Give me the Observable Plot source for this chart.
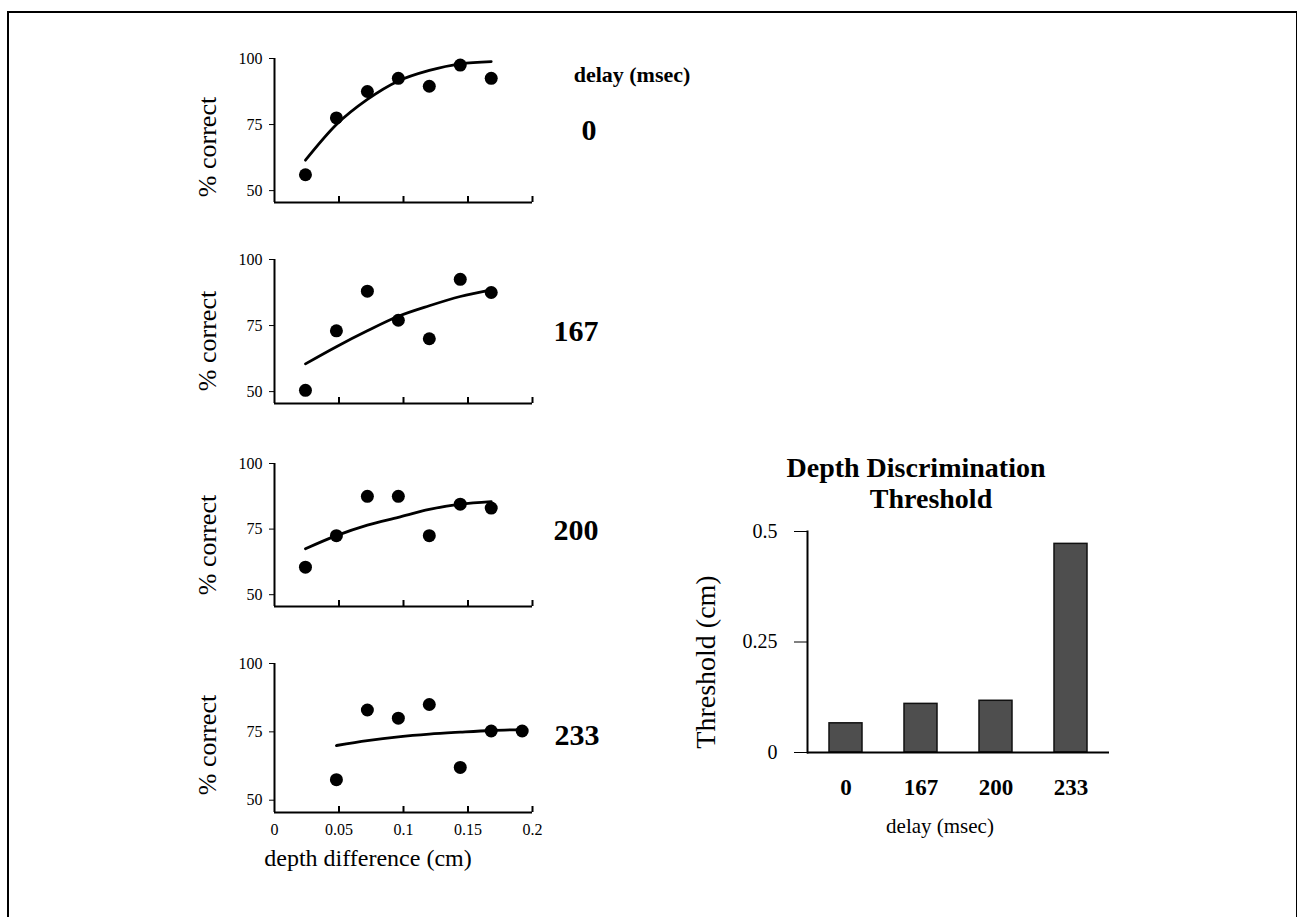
<!DOCTYPE html>
<html>
<head>
<meta charset="utf-8">
<script src="https://cdn.jsdelivr.net/npm/d3@7"></script>
<script src="https://cdn.jsdelivr.net/npm/@observablehq/plot@0.6"></script>
<style>
  html, body { margin: 0; padding: 0; background: #fff; }
  #root { position: relative; width: 1297px; height: 917px; overflow: hidden; background: #fff;
          font-family: "Liberation Serif", "Times New Roman", serif; color: #000; }
  #border { position: absolute; left: 7px; top: 11px; width: 1287px; height: 1000px;
            border-left: 2px solid #000; border-top: 2px solid #000; border-right: 2px solid #000; }
  .lbl { position: absolute; white-space: nowrap; transform: translate(-50%, -50%); line-height: 1; }
  .rot { position: absolute; white-space: nowrap; transform: translate(-50%, -50%) rotate(-90deg); line-height: 1; }
</style>
</head>
<body>
<div id="root"><div id="border"></div></div>
<script>
// ---------- data ----------
const delays = ["0", "167", "200", "233"];
const depthA = [0.024, 0.048, 0.072, 0.096, 0.12, 0.144, 0.168];   // panels 0,167,200
const depthB = [0.048, 0.072, 0.096, 0.12, 0.144, 0.168, 0.192];   // panel 233
const pct0   = [56, 77.5, 87.5, 92.5, 89.5, 97.5, 92.5];
const fit0   = [61.5, 75, 84.5, 91.5, 95.5, 98, 98.8];
const pct167 = [50.5, 73, 88, 77, 70, 92.5, 87.5];
const fit167 = [60.5, 67, 73, 78.5, 82.5, 86, 88.5];
const pct200 = [60.5, 72.5, 87.5, 87.5, 72.5, 84.5, 83];
const fit200 = [67.5, 72.5, 76.5, 79.5, 82.5, 84.5, 85.5];
const pct233 = [57.5, 83, 80, 85, 62, 75.3, 75.3];
const fit233 = [70, 71.8, 73.2, 74.2, 74.9, 75.5, 75.8];
const xTicks = [0, 0.05, 0.1, 0.15, 0.2];
const yTicks = [50, 75, 100];
const thresholds = [0.066, 0.11, 0.117, 0.472];
const thrTicks = [0, 0.25, 0.5];

const panels = [
  {delay: delays[0], depth: depthA, pct: pct0,   fit: fit0},
  {delay: delays[1], depth: depthA, pct: pct167, fit: fit167},
  {delay: delays[2], depth: depthA, pct: pct200, fit: fit200},
  {delay: delays[3], depth: depthB, pct: pct233, fit: fit233}
];

// ---------- layout ----------
const root = document.getElementById("root");
const FONT = '"Liberation Serif", "Times New Roman", serif';
const tops = [58, 259, 463, 663];
const bottoms = [202, 403, 606, 812];
const axisX0 = 274, plotW = 258, ML = 44, MR = 14, MT = 10;
const yMin = 45.5;

function place(el, left, top) {
  el.style.position = "absolute";
  el.style.left = left + "px";
  el.style.top = top + "px";
  root.appendChild(el);
}
function label(text, cx, cy, size, weight, rotated) {
  const d = document.createElement("div");
  d.className = rotated ? "rot" : "lbl";
  d.textContent = text;
  d.style.left = cx + "px";
  d.style.top = cy + "px";
  d.style.fontSize = size + "px";
  d.style.fontWeight = weight || "normal";
  root.appendChild(d);
}

panels.forEach((p, i) => {
  const last = i === 3;
  const H = bottoms[i] - tops[i];
  const MB = last ? 36 : 8;
  const data = p.depth.map((x, j) => ({x, pct: p.pct[j], fit: p.fit[j]}));
  const marks = [
    Plot.ruleX([0], {strokeWidth: 2}),
    Plot.ruleY([yMin], {strokeWidth: 2}),
    Plot.axisY({ticks: yTicks, tickSize: 5, tickPadding: 7, label: null, fontSize: 16}),
    Plot.tickX(xTicks.slice(1), {x: d => d, insetTop: H - 6, strokeWidth: 2}),
    last ? Plot.axisX({ticks: xTicks, tickSize: 0, tickPadding: 11, label: null, fontSize: 16, tickFormat: d => String(d)}) : null,
    Plot.line(data, {x: "x", y: "fit", curve: "monotone-x", strokeWidth: 2.8}),
    Plot.dot(data, {x: "x", y: "pct", r: 6.5, fill: "#000", stroke: "none"})
  ].filter(Boolean);
  const chart = Plot.plot({
    width: ML + plotW + MR,
    height: MT + H + MB,
    marginLeft: ML, marginRight: MR, marginTop: MT, marginBottom: MB,
    x: last ? {domain: [0, 0.2]} : {domain: [0, 0.2], axis: null},
    y: {domain: [yMin, 100]},
    style: {fontFamily: FONT, fontSize: "16px", color: "#000", background: "transparent", overflow: "visible"},
    marks
  });
  place(chart, axisX0 - ML, tops[i] - MT);
});

// left-panel texts
const pctCenters = [147, 341, 545, 745];
pctCenters.forEach(cy => label("% correct", 208, cy, 26, "normal", true));
label("delay (msec)", 632, 75, 22, "bold");
const delayLabelPos = [[589, 130], [576, 331], [576, 530], [577, 735]];
delays.forEach((d, i) => label(d, delayLabelPos[i][0], delayLabelPos[i][1], 30, "bold"));
label("depth difference (cm)", 368, 858, 24, "normal");

// ---------- bar chart ----------
const barData = delays.map((d, i) => ({delay: d, t: thresholds[i]}));
const bML = 100, bMR = 20, bMT = 20, bMB = 60, bW = 302, bH = 221;
const bars = Plot.plot({
  width: bML + bW + bMR,
  height: bMT + bH + bMB,
  marginLeft: bML, marginRight: bMR, marginTop: bMT, marginBottom: bMB,
  x: {domain: delays, paddingInner: 0.56, paddingOuter: 0.28},
  y: {domain: [0, 0.5]},
  style: {fontFamily: FONT, fontSize: "20px", color: "#000", background: "transparent", overflow: "visible"},
  marks: [
    Plot.barY(barData, {x: "delay", y: "t", fill: "#4e4e4e", stroke: "#111", strokeWidth: 1.5}),
    Plot.frame({anchor: "left", strokeWidth: 2}),
    Plot.ruleY([0], {strokeWidth: 2}),
    Plot.axisY({ticks: thrTicks, tickSize: 13, tickPadding: 17, fontSize: 20, label: null, tickFormat: d => String(d)}),
    Plot.axisX({tickSize: 0, tickPadding: 26, fontSize: 23, fontWeight: "bold", label: null})
  ]
});
place(bars, 807 - bML, 531 - bMT);

label("Depth Discrimination", 916, 468, 28, "bold");
label("Threshold", 931, 499, 28, "bold");
label("Threshold (cm)", 706, 662, 28, "normal", true);
label("delay (msec)", 940, 826, 21, "normal");
</script>
</body>
</html>
